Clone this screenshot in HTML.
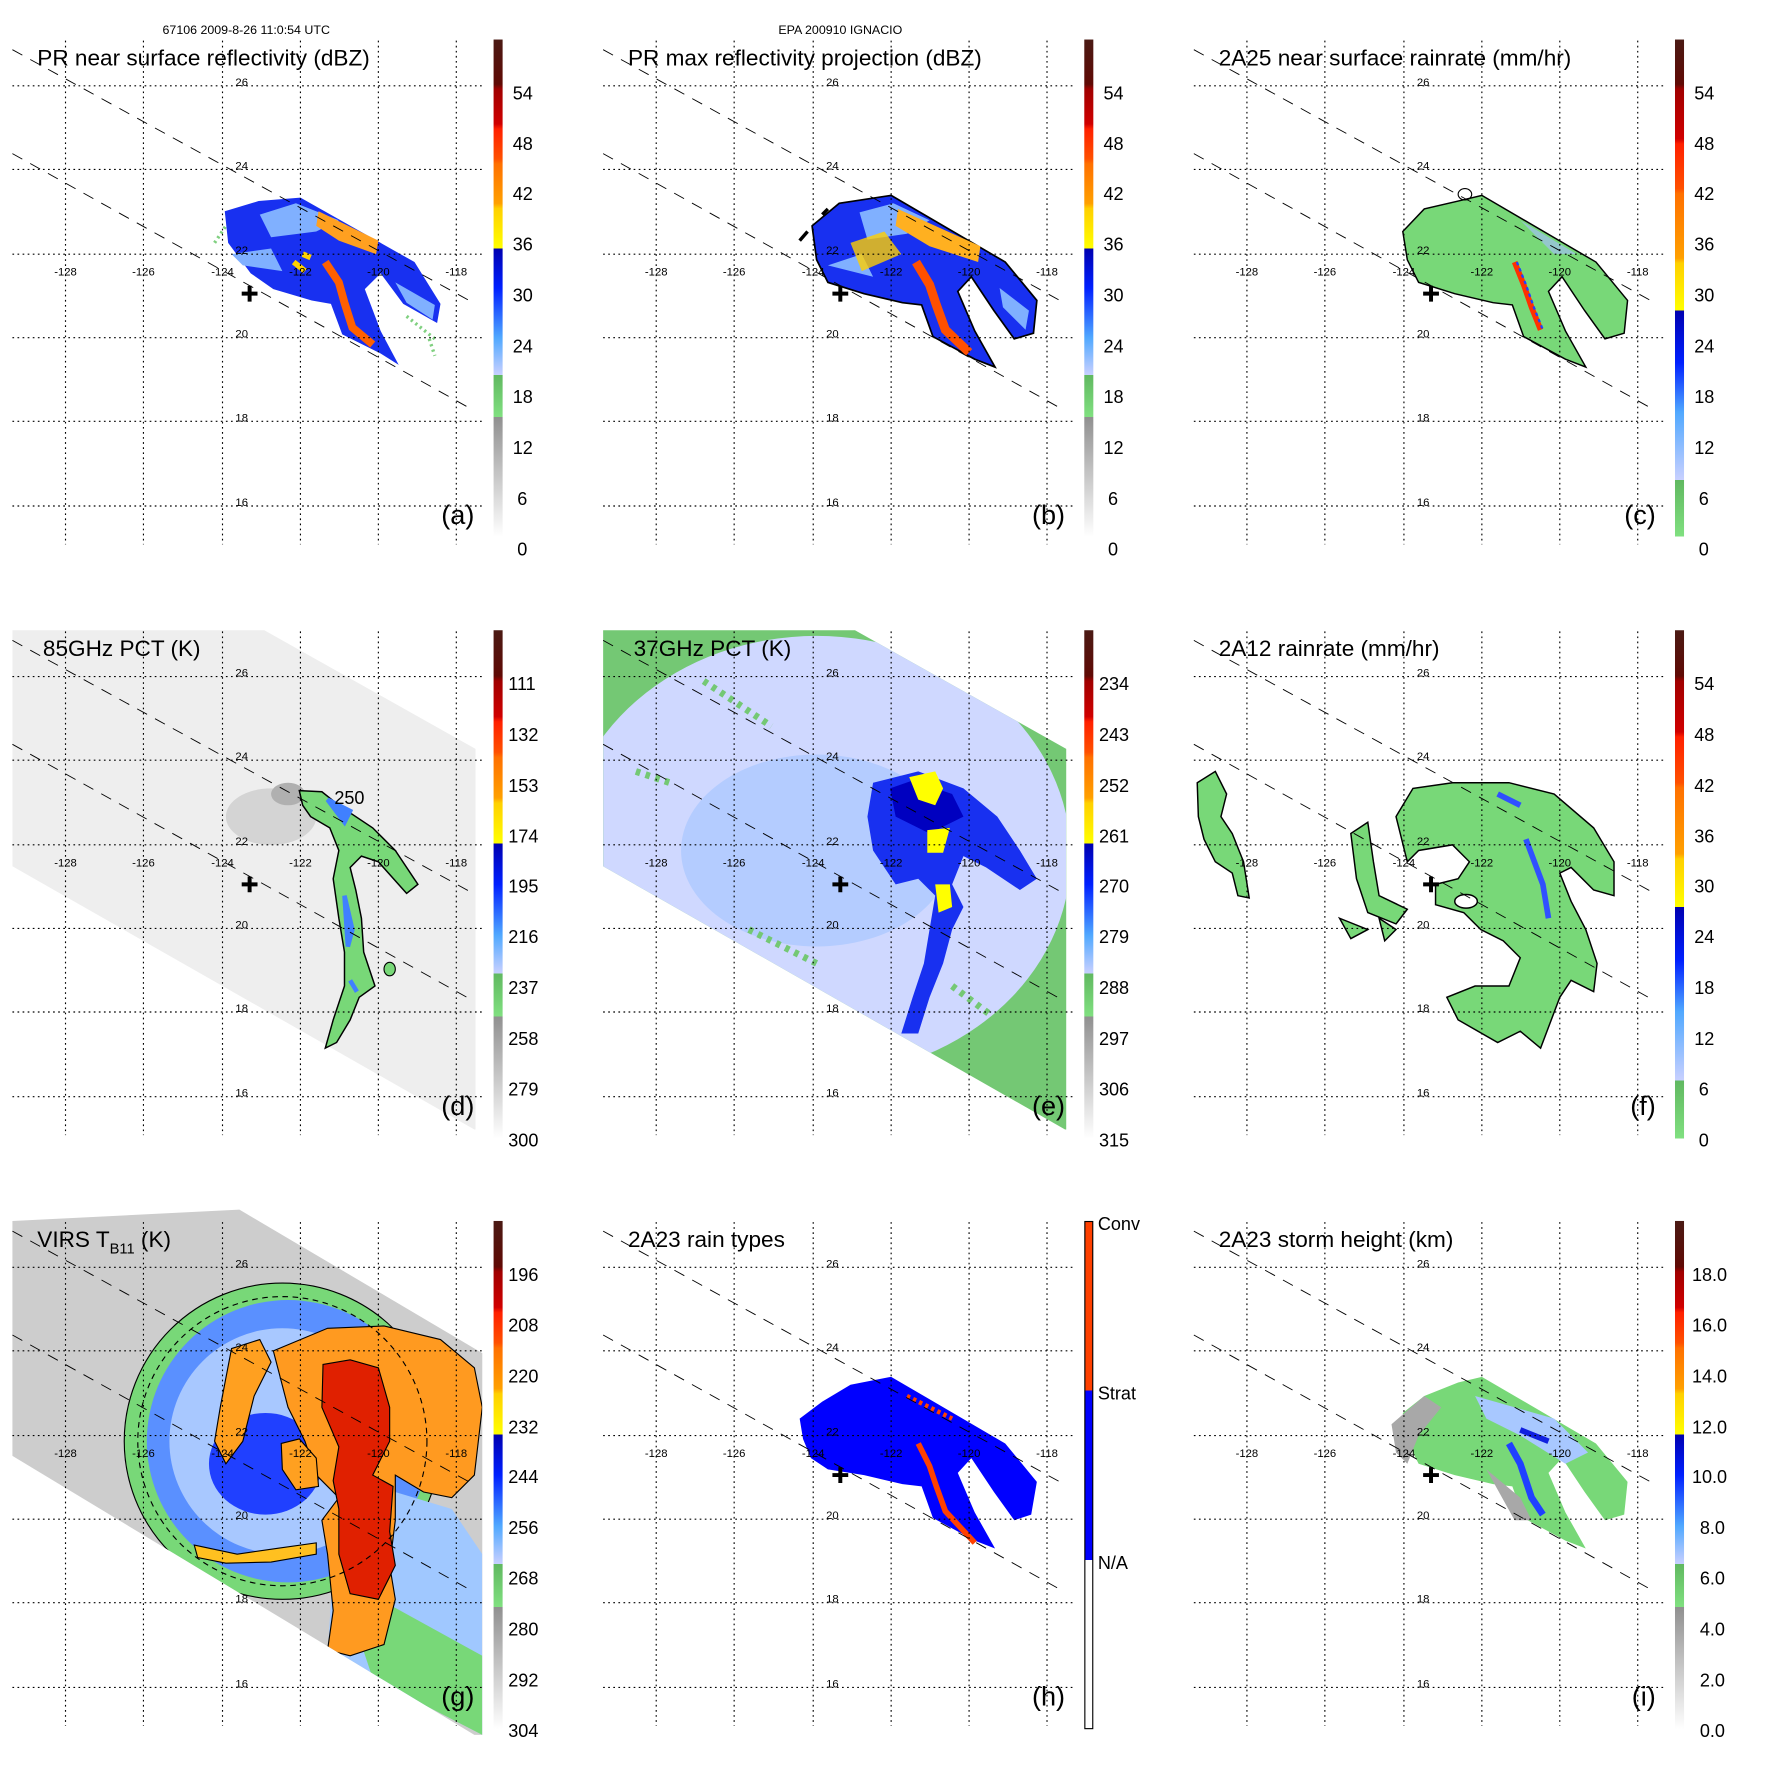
<!DOCTYPE html>
<html><head><meta charset="utf-8"><style>html,body{margin:0;padding:0;background:#fff}svg{display:block}text{font-family:"Liberation Sans",sans-serif}</style></head><body>
<svg width="1771" height="1771" viewBox="0 0 1568 1568" xmlns="http://www.w3.org/2000/svg">
<defs>
<linearGradient id="gA" x1="0" y1="0" x2="0" y2="1">
<stop offset="0" stop-color="#4a1a14"/><stop offset="0.09" stop-color="#600a05"/><stop offset="0.10" stop-color="#a00000"/><stop offset="0.17" stop-color="#d00000"/><stop offset="0.18" stop-color="#ff2000"/><stop offset="0.24" stop-color="#ff5000"/><stop offset="0.25" stop-color="#ff7000"/><stop offset="0.33" stop-color="#ffa000"/><stop offset="0.34" stop-color="#ffd000"/><stop offset="0.42" stop-color="#ffff00"/><stop offset="0.42" stop-color="#0000b0"/><stop offset="0.5" stop-color="#0020ff"/><stop offset="0.6" stop-color="#50a8ff"/><stop offset="0.675" stop-color="#c8d0ff"/><stop offset="0.675" stop-color="#60b860"/><stop offset="0.76" stop-color="#80e080"/><stop offset="0.76" stop-color="#909090"/><stop offset="1" stop-color="#ffffff"/></linearGradient>
<linearGradient id="gC" x1="0" y1="0" x2="0" y2="1">
<stop offset="0" stop-color="#4a1a14"/><stop offset="0.09" stop-color="#600a05"/><stop offset="0.10" stop-color="#a00000"/><stop offset="0.2" stop-color="#d00000"/><stop offset="0.21" stop-color="#ff2000"/><stop offset="0.3" stop-color="#ff5000"/><stop offset="0.31" stop-color="#ff7000"/><stop offset="0.44" stop-color="#ffa000"/><stop offset="0.45" stop-color="#ffd000"/><stop offset="0.545" stop-color="#ffff00"/><stop offset="0.545" stop-color="#0000b0"/><stop offset="0.65" stop-color="#0020ff"/><stop offset="0.75" stop-color="#50a8ff"/><stop offset="0.886" stop-color="#c8d0ff"/><stop offset="0.886" stop-color="#60b860"/><stop offset="1" stop-color="#80e080"/></linearGradient>
<linearGradient id="gH" x1="0" y1="0" x2="0" y2="1">
<stop offset="0" stop-color="#ff4000"/><stop offset="0.333" stop-color="#ff4000"/><stop offset="0.333" stop-color="#0000ff"/><stop offset="0.667" stop-color="#0000ff"/><stop offset="0.667" stop-color="#ffffff"/><stop offset="1" stop-color="#ffffff"/></linearGradient>
<g id="grid" fill="none" stroke="#000">
<g stroke-dasharray="1.5,3" stroke-width="1">
<path d="M58 36V482M127 36V482M197 36V482M266 36V482M335 36V482M404 36V482"/>
<path d="M11 76H429M11 150H429M11 225H429M11 299H429M11 373H429M11 448H429"/>
</g>
<path d="M11 44L419 268M11 136L417 362" stroke-dasharray="10,8" stroke-width="0.8"/>
</g>
<clipPath id="sw"><path d="M11 35L234 35L421 140L421 477L420 477L11 244Z"/></clipPath>
</defs>
<text x="218" y="30" font-size="11" text-anchor="middle">67106 2009-8-26 11:0:54 UTC</text>
<text x="744" y="30" font-size="11" text-anchor="middle">EPA 200910 IGNACIO</text>

<g>
<path d="M199 187L229 178L266 175L367 232L390 269L387 286L357 269L337 242L323 256L337 293L353 323L337 313L303 296L293 269L276 266L242 256L222 242L202 215Z" fill="#1830f0"/>
<path d="M230 190L262 180L300 195L280 205L240 210Z M205 225L240 220L250 240L215 235Z M350 250L385 270L383 283L360 268Z" fill="#80b0ff"/>
<path d="M282 187L335 213L333 225L300 213L280 200Z" fill="#ffa020"/>
<path d="M288 232L300 250L305 268L312 290L330 305" stroke="#ff6000" stroke-width="7" fill="none"/>
<path d="M260 232L270 240M268 225L275 228" stroke="#ffd000" stroke-width="5"/>
<path d="M190 215L200 200M360 280L385 300M380 300L385 315" stroke="#80d080" stroke-width="3" stroke-dasharray="2,3"/>
</g>
<g transform="translate(523,0)">
<path d="M196 200L220 180L266 173L367 232L395 266L392 295L375 300L357 275L337 245L325 258L340 293L358 325L340 318L303 298L293 270L276 268L242 260L210 250L200 230Z" fill="#1830f0" stroke="#000" stroke-width="1.5"/>
<path d="M238 188L268 180L300 195L280 207L245 212Z M210 235L240 225L250 245Z M362 255L388 275L385 292L365 272Z" fill="#80b0ff"/>
<path d="M272 185L345 218L343 232L300 218L270 200Z" fill="#ffb020"/>
<path d="M230 215L260 205L275 225L240 240Z" fill="#ffd000" opacity="0.8"/>
<path d="M288 232L300 252L306 270L314 292L335 312" stroke="#ff5000" stroke-width="8" fill="none"/>
<path d="M185 213L192 205M205 190L210 185" stroke="#000" stroke-width="3"/>
</g>
<g transform="translate(1046,0)">
<path d="M196 205L215 185L245 178L266 173L367 232L395 266L392 295L375 300L357 275L337 245L325 258L340 293L358 325L340 318L303 298L293 270L276 268L242 260L210 250L200 230Z" fill="#78d878" stroke="#000" stroke-width="1.3"/>
<path d="M300 195L350 225L330 225Z" fill="#a0c0f0" opacity="0.7"/>
<path d="M295 232L303 252L310 272L318 292" stroke="#ff3000" stroke-width="5" fill="none"/>
<path d="M297 232L305 252L312 272L320 292" stroke="#2040ff" stroke-width="2" fill="none" stroke-dasharray="3,3"/>
<ellipse cx="251" cy="172" rx="6" ry="5" fill="none" stroke="#000"/>
</g>
<g transform="translate(0,523)">
<path d="M11 35L234 35L421 140L421 477L420 477L11 244Z" fill="#eeeeee"/>
<g clip-path="url(#sw)">
<ellipse cx="240" cy="200" rx="40" ry="25" fill="#d4d4d4"/>
<ellipse cx="255" cy="180" rx="15" ry="10" fill="#b0b0b0"/>
</g>
<path d="M265 177L285 178L300 190L330 210L350 230L370 260L360 268L335 240L320 235L310 245L315 265L320 290L322 320L332 350L318 360L310 380L298 400L288 405L295 380L305 350L305 320L300 290L295 255L300 230L292 210L275 200L268 190Z" fill="#78d878" stroke="#000" stroke-width="1.3"/>
<path d="M290 185L310 195L305 205ZM305 270L312 300L308 315ZM310 345L316 355" stroke="#4080ff" stroke-width="4" fill="#4080ff"/>
<ellipse cx="345" cy="335" rx="5" ry="6" fill="#78d878" stroke="#000"/>
<text x="296" y="189" font-size="16">250</text>
</g>
<g transform="translate(523,523)">
<path d="M11 35L234 35L421 140L421 477L420 477L11 244Z" fill="#74c874"/>
<g clip-path="url(#sw)">
<ellipse cx="200" cy="235" rx="225" ry="195" fill="#cfd8ff"/>
<ellipse cx="200" cy="230" rx="120" ry="85" fill="#a8c8ff" opacity="0.7"/>
<path d="M250 170L290 160L330 175L360 200L380 230L395 255L380 265L350 245L330 235L320 260L330 280L320 300L312 330L300 360L290 392L275 392L285 360L295 330L300 300L305 270L290 255L270 260L250 230L245 200Z" fill="#1830f0"/>
<path d="M265 175L285 168L320 180L330 200L300 215L270 200Z" fill="#0000c0"/>
<path d="M282 165L305 160L312 175L305 190L290 185Z M298 212L318 210L312 232L298 232Z M305 260L318 260L320 280L308 285Z" fill="#ffff00"/>
<path d="M100 80L160 120M40 160L70 170M140 300L200 330M320 350L360 380" stroke="#74c874" stroke-width="6" stroke-dasharray="4,5"/>
</g>
</g>
<g transform="translate(1046,523)" stroke="#000" stroke-width="1.3">
<path d="M190 200L205 175L240 170L290 170L330 180L365 210L383 240L383 270L365 265L345 245L335 250L345 275L358 300L368 330L365 355L345 345L335 360L318 405L300 390L280 400L245 380L235 360L260 350L290 350L300 325L285 310L265 300L250 285L225 278L225 260L245 255L255 240L240 225L210 230L200 240Z" fill="#78d878"/>
<path d="M150 215L165 205L170 240L175 270L200 282L190 295L165 285L155 255Z M175 290L190 300L180 310Z M140 290L165 300L150 308Z" fill="#78d878"/>
<path d="M14 170L30 160L40 180L35 200L45 215L55 240L60 272L50 270L45 250L30 240L20 220L15 200Z" fill="#78d878"/>
<ellipse cx="252" cy="275" rx="10" ry="6" fill="#fff"/>
<path d="M305 220L320 260L325 290M280 180L300 190" stroke="#3050ff" stroke-width="5" fill="none"/>
</g>
<g transform="translate(0,1046)">
<path d="M11 35L212 25L427 152L427 490L420 490L11 243Z" fill="#cdcdcd"/>
<clipPath id="swg"><path d="M11 25L212 25L427 152L427 490L420 490L11 243Z"/></clipPath>
<g clip-path="url(#swg)">
<circle cx="250" cy="230" r="140" fill="#78d878" stroke="#000"/>
<circle cx="255" cy="230" r="125" fill="#5a90ff"/>
<circle cx="250" cy="230" r="100" fill="#a8c8ff"/>
<ellipse cx="235" cy="250" rx="50" ry="45" fill="#2040ff"/>
<path d="M300 260L400 290L427 330L427 490L330 440L290 420Z" fill="#a0c8ff"/>
<path d="M300 350L427 420L427 490L330 440Z" fill="#78d878"/>
<path d="M242 150L290 130L340 128L390 140L420 165L427 200L420 260L400 280L375 275L350 260L350 300L345 340L350 370L340 410L310 420L290 415L295 380L290 330L285 300L300 280L280 260L270 230L255 200Z" fill="#ff9a20" stroke="#000"/>
<path d="M286 162L310 158L335 165L345 200L345 230L330 260L348 270L345 310L350 340L335 370L310 365L300 330L300 290L295 265L300 235L285 200Z" fill="#e02000" stroke="#000"/>
<path d="M205 148L230 140L240 160L225 190L215 230L200 250L190 230L195 200Z" fill="#ffa020" stroke="#000"/>
<path d="M249 232L265 228L280 245L282 270L262 273L250 255Z" fill="#ffa020" stroke="#000"/>
<path d="M172 322L210 330L245 325L280 320L280 330L240 337L200 338L175 333Z" fill="#ffc020" stroke="#000"/>
<circle cx="250" cy="230" r="128" fill="none" stroke="#000" stroke-dasharray="5,4"/>
</g>
</g>
<g transform="translate(523,1046)">
<path d="M185 210L205 195L230 180L266 173L367 232L395 266L390 295L375 300L357 275L337 245L325 258L340 293L358 325L340 318L303 298L293 270L276 268L242 260L210 255L195 245L188 228Z" fill="#0000ff"/>
<path d="M280 190L320 210" stroke="#ff4000" stroke-width="4" stroke-dasharray="3,3"/>
<path d="M290 232L300 252L306 270L314 292L340 320" stroke="#ff4000" stroke-width="5" fill="none"/>
</g>
<g transform="translate(1046,1046)">
<path d="M196 205L215 190L245 178L266 173L367 232L395 266L392 295L375 300L357 275L337 245L325 258L340 293L358 325L340 318L303 298L293 270L276 268L242 260L210 250L200 230Z" fill="#78d878"/>
<path d="M186 215L215 190L230 200L210 225L200 250L190 240Z M270 255L300 280L310 300L295 300Z" fill="#a8a8a8"/>
<path d="M260 190L330 210L360 240L340 250L300 225L270 210Z" fill="#a8c8ff"/>
<path d="M290 232L300 250L310 280L320 295" stroke="#2040ff" stroke-width="6" fill="none"/>
<path d="M300 220L325 230" stroke="#1020e0" stroke-width="5"/>
</g>

<g>
<use href="#grid"/><use href="#grid" x="523"/><use href="#grid" x="1046"/>
<use href="#grid" y="523"/><use href="#grid" x="523" y="523"/><use href="#grid" x="1046" y="523"/>
<use href="#grid" y="1046"/><use href="#grid" x="523" y="1046"/><use href="#grid" x="1046" y="1046"/>
</g>
<g fill="#000" font-size="10">
<g text-anchor="middle">
<text x="58" y="244">-128</text><text x="127" y="244">-126</text><text x="197" y="244">-124</text><text x="266" y="244">-122</text><text x="335" y="244">-120</text><text x="404" y="244">-118</text>
<text x="581" y="244">-128</text><text x="650" y="244">-126</text><text x="720" y="244">-124</text><text x="789" y="244">-122</text><text x="858" y="244">-120</text><text x="927" y="244">-118</text>
<text x="1104" y="244">-128</text><text x="1173" y="244">-126</text><text x="1243" y="244">-124</text><text x="1312" y="244">-122</text><text x="1381" y="244">-120</text><text x="1450" y="244">-118</text>
<text x="58" y="767">-128</text><text x="127" y="767">-126</text><text x="197" y="767">-124</text><text x="266" y="767">-122</text><text x="335" y="767">-120</text><text x="404" y="767">-118</text>
<text x="581" y="767">-128</text><text x="650" y="767">-126</text><text x="720" y="767">-124</text><text x="789" y="767">-122</text><text x="858" y="767">-120</text><text x="927" y="767">-118</text>
<text x="1104" y="767">-128</text><text x="1173" y="767">-126</text><text x="1243" y="767">-124</text><text x="1312" y="767">-122</text><text x="1381" y="767">-120</text><text x="1450" y="767">-118</text>
<text x="58" y="1290">-128</text><text x="127" y="1290">-126</text><text x="197" y="1290">-124</text><text x="266" y="1290">-122</text><text x="335" y="1290">-120</text><text x="404" y="1290">-118</text>
<text x="581" y="1290">-128</text><text x="650" y="1290">-126</text><text x="720" y="1290">-124</text><text x="789" y="1290">-122</text><text x="858" y="1290">-120</text><text x="927" y="1290">-118</text>
<text x="1104" y="1290">-128</text><text x="1173" y="1290">-126</text><text x="1243" y="1290">-124</text><text x="1312" y="1290">-122</text><text x="1381" y="1290">-120</text><text x="1450" y="1290">-118</text>
</g>
<g text-anchor="middle">
<text x="214" y="76">26</text><text x="214" y="150">24</text><text x="214" y="225">22</text><text x="214" y="299">20</text><text x="214" y="373">18</text><text x="214" y="448">16</text>
<text x="737" y="76">26</text><text x="737" y="150">24</text><text x="737" y="225">22</text><text x="737" y="299">20</text><text x="737" y="373">18</text><text x="737" y="448">16</text>
<text x="1260" y="76">26</text><text x="1260" y="150">24</text><text x="1260" y="225">22</text><text x="1260" y="299">20</text><text x="1260" y="373">18</text><text x="1260" y="448">16</text>
<text x="214" y="599">26</text><text x="214" y="673">24</text><text x="214" y="748">22</text><text x="214" y="822">20</text><text x="214" y="896">18</text><text x="214" y="971">16</text>
<text x="737" y="599">26</text><text x="737" y="673">24</text><text x="737" y="748">22</text><text x="737" y="822">20</text><text x="737" y="896">18</text><text x="737" y="971">16</text>
<text x="1260" y="599">26</text><text x="1260" y="673">24</text><text x="1260" y="748">22</text><text x="1260" y="822">20</text><text x="1260" y="896">18</text><text x="1260" y="971">16</text>
<text x="214" y="1122">26</text><text x="214" y="1196">24</text><text x="214" y="1271">22</text><text x="214" y="1345">20</text><text x="214" y="1419">18</text><text x="214" y="1494">16</text>
<text x="737" y="1122">26</text><text x="737" y="1196">24</text><text x="737" y="1271">22</text><text x="737" y="1345">20</text><text x="737" y="1419">18</text><text x="737" y="1494">16</text>
<text x="1260" y="1122">26</text><text x="1260" y="1196">24</text><text x="1260" y="1271">22</text><text x="1260" y="1345">20</text><text x="1260" y="1419">18</text><text x="1260" y="1494">16</text>
</g>
</g>
<g stroke="#000" stroke-width="3.5">
<path d="M214 260h14M221 253v14M737 260h14M744 253v14M1260 260h14M1267 253v14"/>
<path d="M214 783h14M221 776v14M737 783h14M744 776v14M1260 783h14M1267 776v14"/>
<path d="M737 1306h14M744 1299v14M1260 1306h14M1267 1299v14"/>
</g>
<g font-size="20">
<text x="33" y="58">PR near surface reflectivity (dBZ)</text>
<text x="556" y="58">PR max reflectivity projection (dBZ)</text>
<text x="1079" y="58">2A25 near surface rainrate (mm/hr)</text>
<text x="38" y="581">85GHz PCT (K)</text>
<text x="561" y="581">37GHz PCT (K)</text>
<text x="1079" y="581">2A12 rainrate (mm/hr)</text>
<text x="33" y="1104">VIRS T<tspan font-size="13" dy="6">B11</tspan><tspan dy="-6"> (K)</tspan></text>
<text x="556" y="1104">2A23 rain types</text>
<text x="1079" y="1104">2A23 storm height (km)</text>
</g>
<g font-size="24" text-anchor="end">
<text x="420" y="464">(a)</text><text x="943" y="464">(b)</text><text x="1466" y="464">(c)</text>
<text x="420" y="987">(d)</text><text x="943" y="987">(e)</text><text x="1466" y="987">(f)</text>
<text x="420" y="1510">(g)</text><text x="943" y="1510">(h)</text><text x="1466" y="1510">(i)</text>
</g>
<rect x="437" y="35" width="8" height="440" fill="url(#gA)"/>
<rect x="960" y="35" width="8" height="440" fill="url(#gA)"/>
<rect x="1483" y="35" width="8" height="440" fill="url(#gC)"/>
<rect x="437" y="558" width="8" height="450" fill="url(#gA)"/>
<rect x="960" y="558" width="8" height="450" fill="url(#gA)"/>
<rect x="1483" y="558" width="8" height="450" fill="url(#gC)"/>
<rect x="437" y="1081" width="8" height="450" fill="url(#gA)"/>
<rect x="960.5" y="1081.5" width="7" height="449" fill="url(#gH)" stroke="#000" stroke-width="1"/>
<rect x="1483" y="1081" width="8" height="450" fill="url(#gA)"/>
<g font-size="16">
<text x="454" y="88">54</text><text x="454" y="133">48</text><text x="454" y="177">42</text><text x="454" y="222">36</text><text x="454" y="267">30</text><text x="454" y="312">24</text><text x="454" y="357">18</text><text x="454" y="402">12</text><text x="458" y="447">6</text><text x="458" y="492">0</text>
<text x="977" y="88">54</text><text x="977" y="133">48</text><text x="977" y="177">42</text><text x="977" y="222">36</text><text x="977" y="267">30</text><text x="977" y="312">24</text><text x="977" y="357">18</text><text x="977" y="402">12</text><text x="981" y="447">6</text><text x="981" y="492">0</text>
<text x="1500" y="88">54</text><text x="1500" y="133">48</text><text x="1500" y="177">42</text><text x="1500" y="222">36</text><text x="1500" y="267">30</text><text x="1500" y="312">24</text><text x="1500" y="357">18</text><text x="1500" y="402">12</text><text x="1504" y="447">6</text><text x="1504" y="492">0</text>
<text x="450" y="611">111</text><text x="450" y="656">132</text><text x="450" y="701">153</text><text x="450" y="746">174</text><text x="450" y="790">195</text><text x="450" y="835">216</text><text x="450" y="880">237</text><text x="450" y="925">258</text><text x="450" y="970">279</text><text x="450" y="1015">300</text>
<text x="973" y="611">234</text><text x="973" y="656">243</text><text x="973" y="701">252</text><text x="973" y="746">261</text><text x="973" y="790">270</text><text x="973" y="835">279</text><text x="973" y="880">288</text><text x="973" y="925">297</text><text x="973" y="970">306</text><text x="973" y="1015">315</text>
<text x="1500" y="611">54</text><text x="1500" y="656">48</text><text x="1500" y="701">42</text><text x="1500" y="746">36</text><text x="1500" y="790">30</text><text x="1500" y="835">24</text><text x="1500" y="880">18</text><text x="1500" y="925">12</text><text x="1504" y="970">6</text><text x="1504" y="1015">0</text>
<text x="450" y="1134">196</text><text x="450" y="1179">208</text><text x="450" y="1224">220</text><text x="450" y="1269">232</text><text x="450" y="1313">244</text><text x="450" y="1358">256</text><text x="450" y="1403">268</text><text x="450" y="1448">280</text><text x="450" y="1493">292</text><text x="450" y="1538">304</text>
<text x="972" y="1089">Conv</text><text x="972" y="1239">Strat</text><text x="972" y="1389">N/A</text>
<text x="1498" y="1134">18.0</text><text x="1498" y="1179">16.0</text><text x="1498" y="1224">14.0</text><text x="1498" y="1269">12.0</text><text x="1498" y="1313">10.0</text><text x="1505" y="1358">8.0</text><text x="1505" y="1403">6.0</text><text x="1505" y="1448">4.0</text><text x="1505" y="1493">2.0</text><text x="1505" y="1538">0.0</text>
</g>
</svg>
</body></html>
